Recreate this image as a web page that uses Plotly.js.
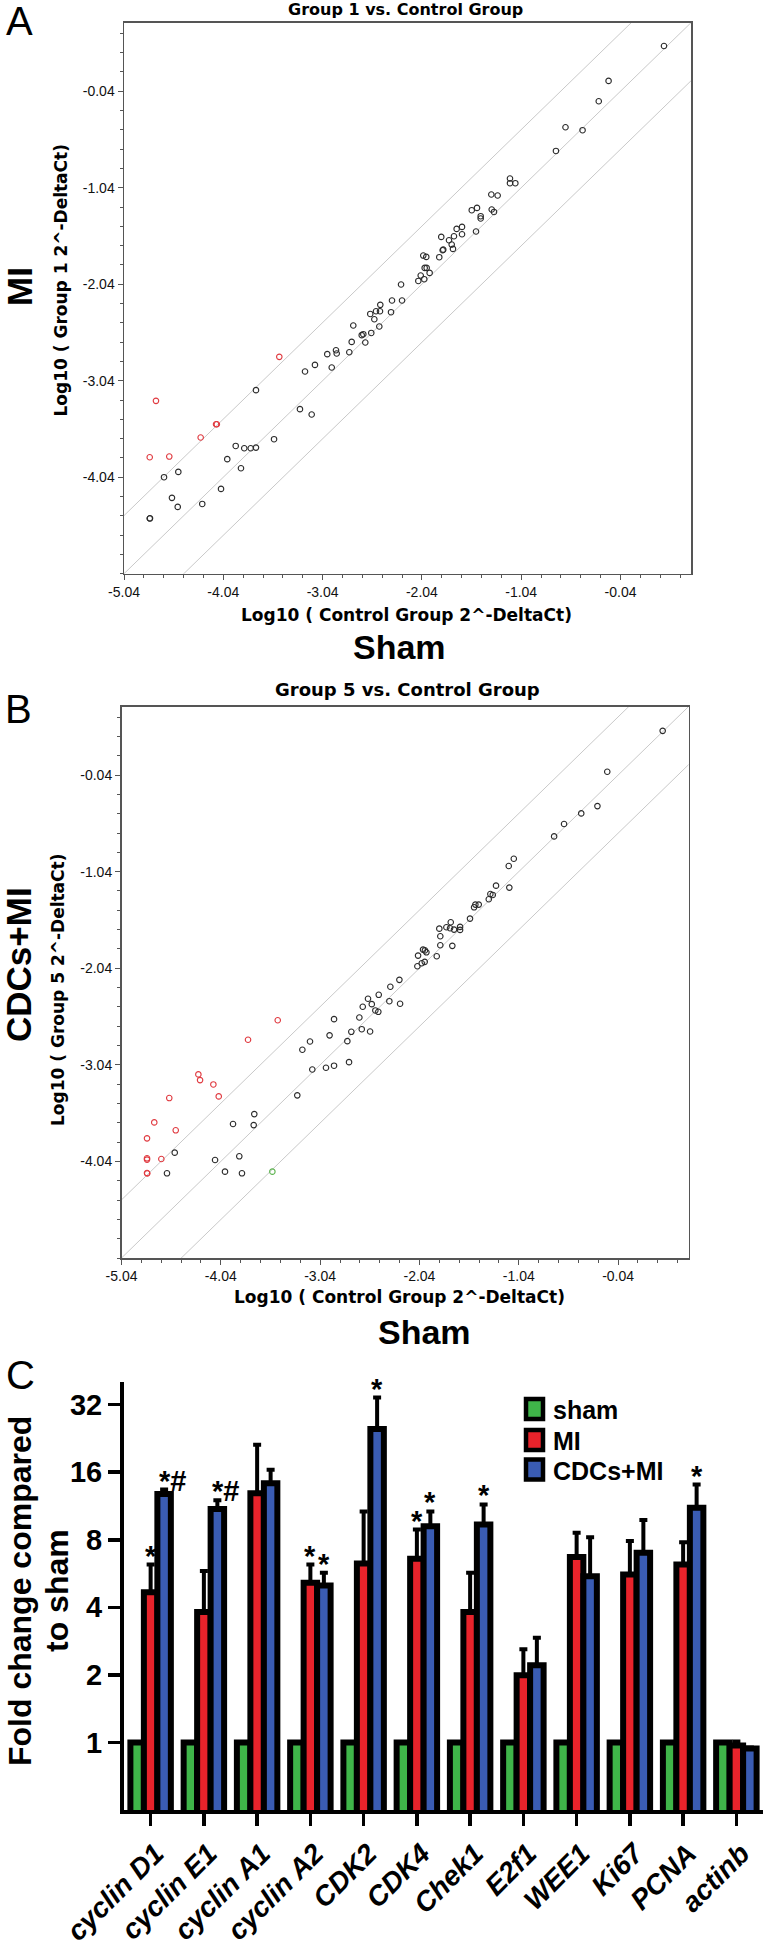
<!DOCTYPE html>
<html>
<head>
<meta charset="utf-8">
<script src="https://cdn.plot.ly/plotly-3.0.1.min.js"></script>
<style>html,body{margin:0;padding:0;background:#fff;}#chart{width:770px;height:1955px;}</style>
</head>
<body>
<div id="chart"></div>
<script>
// ---------- Panel A data (log10 values) ----------
const aBlackX = [0.398,-0.160,-0.259,-0.594,-0.422,-0.690,-1.153,-1.153,-1.099,-1.341,-1.277,-1.538,-1.485,-1.337,-1.314,-1.448,-1.448,-1.495,-1.690,-1.636,-1.636,-1.845,-1.767,-1.717,-1.740,-1.727,-1.831,-1.825,-1.865,-2.026,-1.996,-2.012,-1.992,-1.962,-2.052,-2.076,-2.016,-2.250,-2.341,-2.240,-2.351,-2.459,-2.560,-2.502,-2.462,-2.519,-2.469,-2.731,-2.646,-2.630,-2.550,-2.610,-2.747,-2.771,-2.905,-2.898,-2.948,-2.993,-3.117,-3.217,-3.711,-3.268,-3.150,-3.529,-3.915,-3.829,-3.764,-3.711,-4.000,-3.862,-4.493,-4.637,-4.063,-4.557,-4.499,-4.252,-4.781,-4.778];
const aBlackY = [0.429,0.067,-0.144,-0.413,-0.444,-0.659,-0.945,-0.993,-0.993,-1.110,-1.121,-1.273,-1.249,-1.266,-1.291,-1.335,-1.359,-1.494,-1.467,-1.446,-1.522,-1.550,-1.584,-1.543,-1.629,-1.674,-1.688,-1.682,-1.760,-1.743,-1.757,-1.871,-1.871,-1.923,-1.950,-2.006,-1.988,-2.043,-2.209,-2.209,-2.330,-2.254,-2.348,-2.320,-2.320,-2.403,-2.478,-2.468,-2.568,-2.558,-2.545,-2.644,-2.638,-2.745,-2.724,-2.758,-2.903,-2.765,-2.876,-2.945,-3.138,-3.335,-3.390,-3.646,-3.716,-3.740,-3.740,-3.733,-3.853,-3.947,-3.985,-4.040,-4.161,-4.254,-4.348,-4.317,-4.468,-4.466];
const aRedX = [-3.476,-4.718,-4.113,-4.105,-4.268,-4.781,-4.584];
const aRedY = [-2.793,-3.249,-3.491,-3.491,-3.629,-3.833,-3.826];

// ---------- Panel B data ----------
const bBlackX = [0.409,-0.149,-0.248,-0.411,-0.584,-0.684,-1.090,-1.141,-1.135,-1.269,-1.326,-1.302,-1.342,-1.477,-1.443,-1.490,-1.531,-1.725,-1.769,-1.732,-1.692,-1.631,-1.631,-1.840,-1.830,-1.830,-1.709,-1.866,-2.004,-1.970,-1.985,-2.054,-2.017,-1.987,-2.061,-2.242,-2.333,-2.450,-2.343,-2.235,-2.558,-2.520,-2.611,-2.484,-2.454,-2.645,-2.900,-2.726,-2.621,-2.537,-2.766,-2.945,-4.504,-4.582,-4.098,-3.998,-3.827,-3.854,-3.917,-3.703,-3.709,-3.270,-3.119,-2.981,-2.900,-2.749,-3.219,-3.142];
const bBlackY = [0.418,-0.006,-0.361,-0.437,-0.547,-0.675,-0.906,-0.981,-1.205,-1.185,-1.271,-1.281,-1.326,-1.381,-1.381,-1.409,-1.526,-1.564,-1.616,-1.626,-1.640,-1.612,-1.643,-1.630,-1.709,-1.802,-1.808,-1.916,-1.847,-1.875,-1.855,-1.909,-1.988,-1.974,-2.019,-2.160,-2.232,-2.315,-2.381,-2.408,-2.356,-2.412,-2.439,-2.477,-2.491,-2.550,-2.567,-2.698,-2.671,-2.695,-2.795,-2.735,-3.949,-4.163,-4.025,-4.146,-4.163,-3.987,-3.653,-3.550,-3.664,-3.356,-3.088,-3.070,-3.049,-3.012,-2.884,-2.798];
const bRedX = [-3.467,-3.766,-4.266,-4.249,-4.115,-4.061,-4.559,-4.710,-4.494,-4.783,-4.783,-4.783,-4.639,-4.783,-4.781];
const bRedY = [-2.578,-2.780,-3.139,-3.198,-3.243,-3.367,-3.384,-3.636,-3.718,-3.801,-4.008,-4.021,-4.015,-4.160,-4.165];
const bGreenX = [-3.521];
const bGreenY = [-4.146];

// ---------- Scatter axes ----------
const scatterXTicks = [-5.04,-4.04,-3.04,-2.04,-1.04,-0.04];
const scatterXText  = ['-5.04','-4.04','-3.04','-2.04','-1.04','-0.04'];
const scatterYTicks = [-4.04,-3.04,-2.04,-1.04,-0.04];
const scatterYText  = ['-4.04','-3.04','-2.04','-1.04','-0.04'];
const scatterRange  = [-5.04, 0.67];
const foldBoundary  = 4;   // fold-change boundary lines

// ---------- Panel C data ----------
const categories = ['cyclin D1','cyclin E1','cyclin A1','cyclin A2','CDK2','CDK4','Chek1','E2f1','WEE1','Ki67','PCNA','actinb'];
const seriesNames = ['sham','MI','CDCs+MI'];
const shamVals = [1,1,1,1,1,1,1,1,1,1,1,1];
const miVals   = [4.67,3.81,12.9,5.15,6.27,6.58,3.81,1.99,6.7,5.6,6.2,0.97];
const miTop    = [6.2,5.8,21.2,6.2,10.7,8.88,5.7,2.6,8.6,7.9,7.8,1.01];
const cdcVals  = [12.8,10.98,14.3,5.0,24.9,9.19,9.35,2.21,5.5,7.0,11.1,0.94];
const cdcTop   = [13.4,12.0,16.4,5.7,34.4,10.7,11.5,2.93,8.2,9.8,14.1,0.95];
const miSig    = ['*','','','*','','*','','','','','',''];
const cdcSig   = ['*#','*#','','*','*','*','*','','','','*',''];
const foldTicks = [1,2,4,8,16,32];
const foldTickText = ['1','2','4','8','16','32'];

// ---------- helpers ----------
const W = 770, H = 1955;
const fx = p => p / W;
const fy = p => 1 - p / H;
const GRAY = '#555';
const colors = {sham:'#3fb549', mi:'#e8232b', cdc:'#3a5cb3'};

function boundaryTraces(xa, ya) {
  const traces = [];
  const off = Math.log10(foldBoundary);
  [-off, 0, off].forEach(c => {
    const xs = [scatterRange[0] - 1, scatterRange[1] + 1];
    traces.push({x: xs, y: xs.map(v => v + c), xaxis: xa, yaxis: ya, mode: 'lines',
      line: {color: '#c9c9c9', width: 1}, hoverinfo: 'skip', showlegend: false});
  });
  return traces;
}
function pts(x, y, color, xa, ya) {
  return {x: x, y: y, xaxis: xa, yaxis: ya, mode: 'markers', type: 'scatter', showlegend: false,
    marker: {symbol: 'circle-open', size: 5.5, color: color, line: {width: 1.1, color: color}}};
}

const data = [];
data.push(...boundaryTraces('x', 'y'));
data.push(pts(aBlackX, aBlackY, '#2b2b2b', 'x', 'y'));
data.push(pts(aRedX, aRedY, '#e03a40', 'x', 'y'));
data.push(...boundaryTraces('x2', 'y2'));
data.push(pts(bBlackX, bBlackY, '#2b2b2b', 'x2', 'y2'));
data.push(pts(bRedX, bRedY, '#e03a40', 'x2', 'y2'));
data.push(pts(bGreenX, bGreenY, '#5db34f', 'x2', 'y2'));

const barLine = {color: '#000', width: 6};
const errStyle = {type: 'data', symmetric: false, color: '#000', thickness: 4, width: 4};
data.push({type: 'bar', name: seriesNames[0], x: categories, y: shamVals, xaxis: 'x3', yaxis: 'y3',
  marker: {color: colors.sham, line: barLine}, showlegend: false});
data.push({type: 'bar', name: seriesNames[1], x: categories, y: miVals, xaxis: 'x3', yaxis: 'y3',
  marker: {color: colors.mi, line: barLine}, showlegend: false,
  error_y: Object.assign({}, errStyle, {array: miTop.map((t, i) => t - miVals[i]), arrayminus: miVals.map(() => 0)})});
data.push({type: 'bar', name: seriesNames[2], x: categories, y: cdcVals, xaxis: 'x3', yaxis: 'y3',
  marker: {color: colors.cdc, line: barLine}, showlegend: false,
  error_y: Object.assign({}, errStyle, {array: cdcTop.map((t, i) => t - cdcVals[i]), arrayminus: cdcVals.map(() => 0)})});

const scatterAxisCommon = {
  showline: true, mirror: true, linecolor: GRAY, linewidth: 1.5, showgrid: false, zeroline: false,
  ticks: 'outside', ticklen: 5, tickwidth: 1, tickcolor: GRAY, range: scatterRange,
  tickfont: {family: 'Liberation Sans, Arial, sans-serif', size: 14, color: '#111'},
  minor: {tick0: -5.04, dtick: 0.2, ticks: 'outside', ticklen: 3, tickwidth: 1, tickcolor: GRAY, showgrid: false}
};
const xA = Object.assign({}, scatterAxisCommon, {domain: [fx(124), fx(691)], anchor: 'y', tickvals: scatterXTicks, ticktext: scatterXText, tickmode: 'array'});
const yA = Object.assign({}, scatterAxisCommon, {domain: [fy(573.7), fy(22.7)], anchor: 'x', tickvals: scatterYTicks, ticktext: scatterYText, tickmode: 'array'});
const xB = Object.assign({}, scatterAxisCommon, {domain: [fx(121.5), fx(688.6)], anchor: 'y2', tickvals: scatterXTicks, ticktext: scatterXText, tickmode: 'array'});
const yB = Object.assign({}, scatterAxisCommon, {domain: [fy(1258), fy(706.5)], anchor: 'x2', tickvals: scatterYTicks, ticktext: scatterYText, tickmode: 'array'});

const xC = {domain: [fx(124), fx(763)], anchor: 'y3', type: 'category', range: [-0.5, categories.length - 0.5],
  showline: true, linecolor: '#000', linewidth: 4, ticks: 'outside', ticklen: 12, tickwidth: 3.5, tickcolor: '#000',
  tickangle: -45, showgrid: false, zeroline: false, ticklabelshift: 5,
  tickfont: {family: 'Liberation Sans, Arial, sans-serif', size: 28, color: '#000', weight: 'bold', style: 'italic'}};
const yC = {domain: [fy(1810), fy(1381.7)], anchor: 'x3', type: 'log', range: [Math.log10(0.5), Math.log10(40.5)],
  tickmode: 'array', tickvals: foldTicks, ticktext: foldTickText,
  showline: true, linecolor: '#000', linewidth: 4, ticks: 'outside', ticklen: 12, tickwidth: 3.5, tickcolor: '#000',
  showgrid: false, zeroline: false,
  tickfont: {family: 'Liberation Sans, Arial, sans-serif', size: 29, color: '#000', weight: 'bold'}};

// ---------- text ----------
const ann = [];
function txt(text, px, py, size, o) {
  o = o || {};
  ann.push(Object.assign({text: text, xref: 'paper', yref: 'paper', x: fx(px), y: fy(py),
    xanchor: 'center', yanchor: 'middle', showarrow: false, borderpad: 0,
    font: {family: o.family || 'Liberation Sans, Arial, sans-serif', size: size, color: '#000', weight: o.weight || 'normal'}},
    o.angle !== undefined ? {textangle: o.angle} : {}, o.extra || {}));
}
const DJ = 'DejaVu Sans, Verdana, sans-serif';
txt('A', 19, 21, 40);
txt('B', 18.5, 709, 40);
txt('C', 20, 1375, 40);
txt('Group 1 vs. Control Group', 405, 9.5, 16, {family: DJ, weight: 'bold'});
txt('Group 5 vs. Control Group', 408, 689.5, 18, {family: DJ, weight: 'bold'});
txt('Log10 ( Control Group 2^-DeltaCt)', 406.5, 615, 17, {family: DJ, weight: 'bold'});
txt('Log10 ( Control Group 2^-DeltaCt)', 400, 1297, 17, {family: DJ, weight: 'bold'});
txt('Log10 ( Group 1 2^-DeltaCt)', 60.5, 281, 17, {family: DJ, weight: 'bold', angle: -90});
txt('Log10 ( Group 5 2^-DeltaCt)', 58, 990, 17, {family: DJ, weight: 'bold', angle: -90});
txt('Sham', 400, 647, 34, {weight: 'bold'});
txt('Sham', 424.5, 1332, 34, {weight: 'bold'});
txt('MI', 19, 287, 35, {weight: 'bold', angle: -90});
txt('CDCs+MI', 18.5, 964.5, 35, {weight: 'bold', angle: -90});
txt('Fold change compared', 20, 1591, 32, {weight: 'bold', angle: -90});
txt('to sham', 57, 1591, 32, {weight: 'bold', angle: -90});

// legend (drawn from the series names)
const legendColors = [colors.sham, colors.mi, colors.cdc];
const legendRows = [1409, 1440, 1469.5];
const shapes = [];
seriesNames.forEach((n, i) => {
  shapes.push({type: 'rect', xref: 'paper', yref: 'paper', x0: fx(526), x1: fx(543), y0: fy(legendRows[i] + 10), y1: fy(legendRows[i] - 10),
    fillcolor: legendColors[i], line: {color: '#000', width: 4.5}});
  txt(n, 552, legendRows[i] + 1, 25, {weight: 'bold', extra: {xanchor: 'left'}});
});

// significance marks, placed above the error-bar tops
const bargap = 0.24;
const bw = (1 - bargap) / 3;
function sig(list, tops, offset) {
  list.forEach((s, i) => {
    if (!s) return;
    ann.push({text: s, xref: 'x3', yref: 'y3', x: i + offset, y: Math.log10(tops[i]),
      xanchor: 'center', yanchor: 'bottom', yshift: -8, xshift: s.length > 1 ? 8 : 0, showarrow: false, borderpad: 0,
      font: {family: 'Liberation Sans, Arial, sans-serif', size: 29, color: '#000', weight: 'bold'}});
  });
}
sig(miSig, miTop, 0);
sig(cdcSig, cdcTop, bw);

const layout = {
  width: W, height: H, margin: {l: 0, r: 0, t: 0, b: 0},
  paper_bgcolor: '#fff', plot_bgcolor: '#fff', showlegend: false,
  barmode: 'group', bargap: bargap, bargroupgap: 0,
  xaxis: xA, yaxis: yA, xaxis2: xB, yaxis2: yB, xaxis3: xC, yaxis3: yC,
  annotations: ann, shapes: shapes
};
Plotly.newPlot('chart', data, layout, {staticPlot: true, displayModeBar: false});
</script>
</body>
</html>
